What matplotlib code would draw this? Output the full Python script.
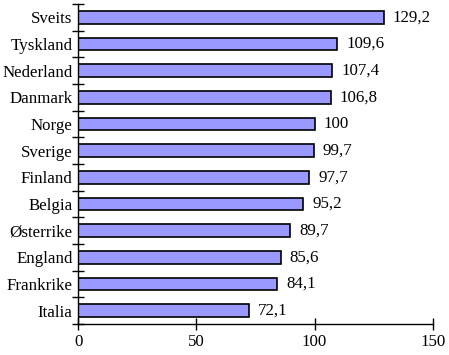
import matplotlib.pyplot as plt
import numpy as np
from matplotlib.ticker import FixedLocator

countries = ['Sveits', 'Tyskland', 'Nederland', 'Danmark', 'Norge', 'Sverige',
             'Finland', 'Belgia', 'Østerrike', 'England', 'Frankrike', 'Italia']
values = [129.2, 109.6, 107.4, 106.8, 100, 99.7, 97.7, 95.2, 89.7, 85.6, 84.1, 72.1]
x_ticks = [0, 50, 100, 150]

plt.rcParams['font.family'] = ['Liberation Serif', 'DejaVu Serif']
plt.rcParams['font.size'] = 12.2

fig = plt.figure(figsize=(4.49, 3.55), dpi=100)
ax = fig.add_axes([0.174, 0.087, 0.79, 0.902])

y = np.arange(len(countries))
ax.barh(y, values, height=0.48, color='#9999FF', edgecolor='black', linewidth=1.2)

for yi, v in zip(y, values):
    label = f'{v:g}'.replace('.', ',')
    ax.text(v + 3.8, yi, label, va='center', ha='left')

ax.set_xlim(0, 150)
ax.set_ylim(len(countries) - 0.5, -0.5)
ax.set_yticks(y)
ax.set_yticklabels(countries)
ax.yaxis.set_minor_locator(FixedLocator(np.arange(-0.5, len(countries), 1)))
ax.tick_params(axis='y', which='major', length=0, pad=4)
ax.tick_params(axis='y', which='minor', length=8, direction='inout', width=1)
ax.set_xticks(x_ticks)
ax.tick_params(axis='x', length=8, direction='inout', width=1, pad=3)

for s in ['top', 'right']:
    ax.spines[s].set_visible(False)
for s in ['left', 'bottom']:
    ax.spines[s].set_linewidth(1)

fig.savefig('out.png', dpi=100)
